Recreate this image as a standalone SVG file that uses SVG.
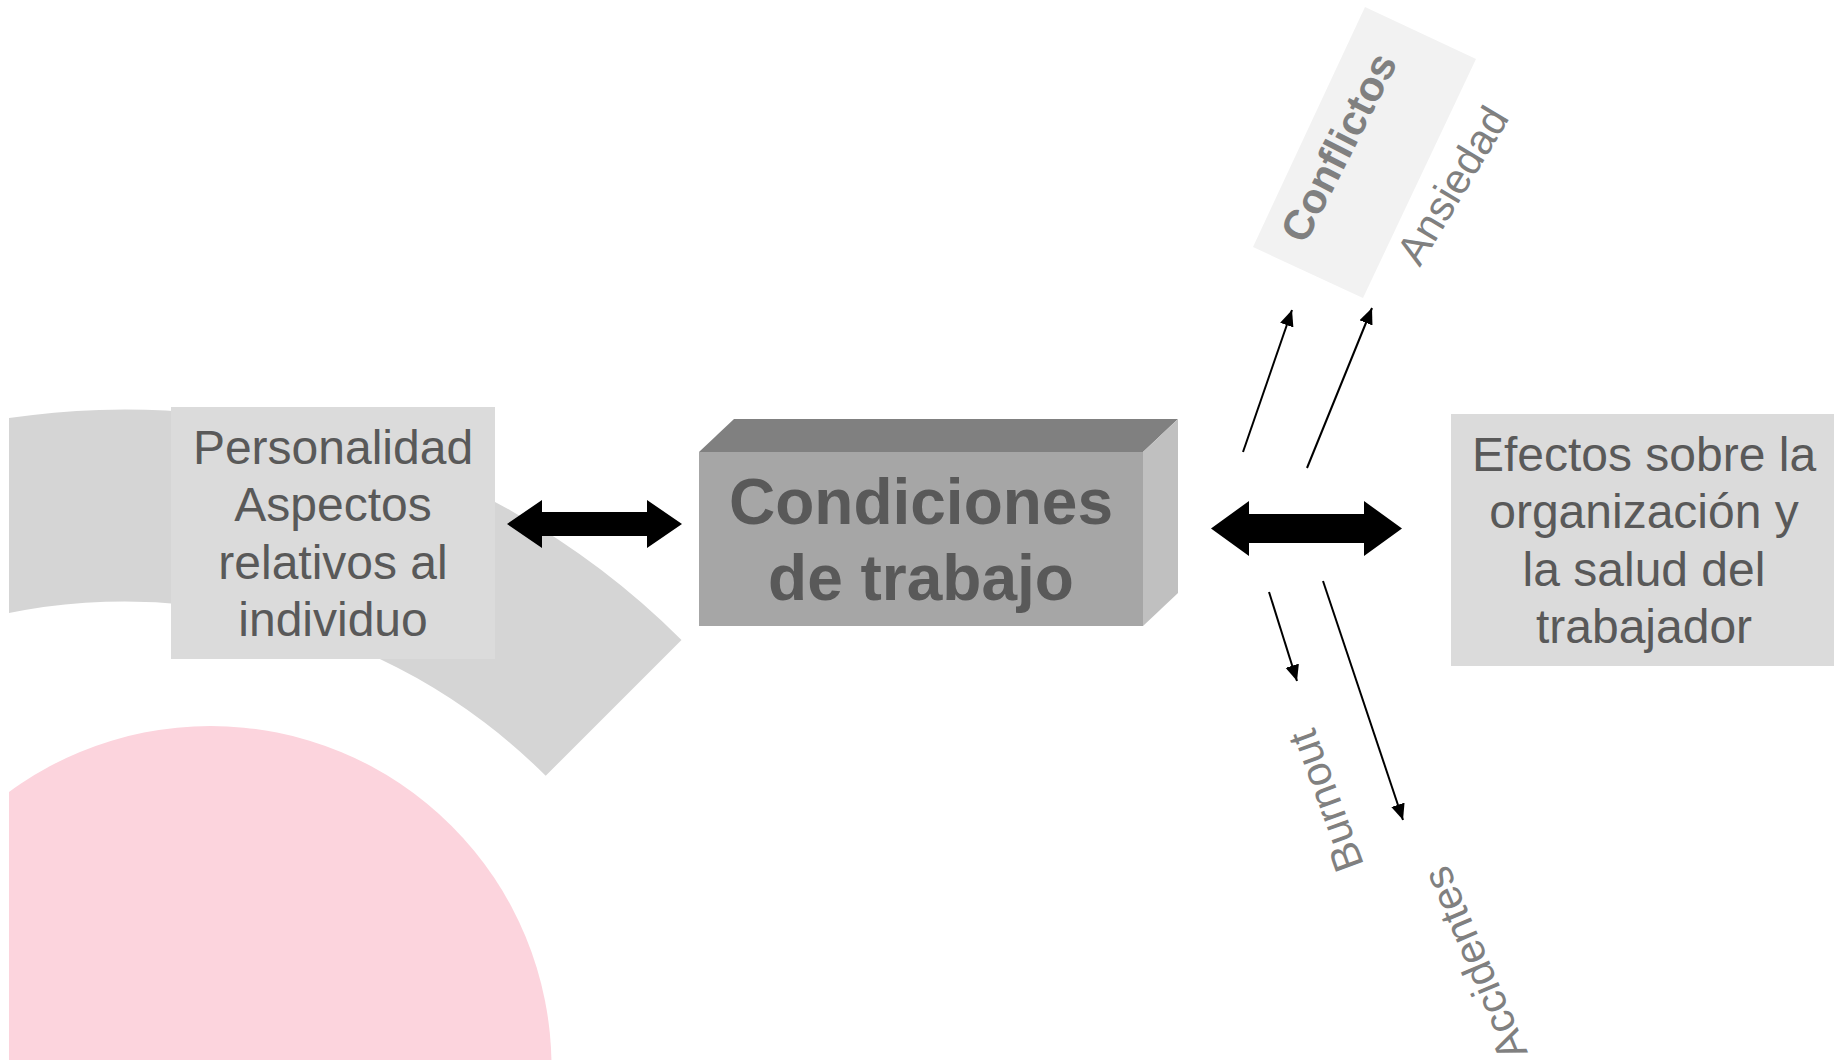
<svg xmlns="http://www.w3.org/2000/svg" width="1834" height="1060" viewBox="0 0 1834 1060">
<defs>
<clipPath id="bgclip"><rect x="9" y="0" width="1825" height="1060"/></clipPath>
<marker id="ah" markerUnits="userSpaceOnUse" markerWidth="18" markerHeight="16" refX="16" refY="7" orient="auto"><path d="M0,0 L16,7 L0,14 z" fill="#000"/></marker>
<style>
.box{fill:#dbdbdb}
.t48{font-family:"Liberation Sans",Arial,sans-serif;font-size:48px;fill:#595959;text-anchor:middle}
.big{font-family:"Liberation Sans",Arial,sans-serif;font-size:64px;font-weight:bold;fill:#595959;text-anchor:middle}
.rot{font-family:"Liberation Sans",Arial,sans-serif;font-size:42px;fill:#808080;text-anchor:middle}
.thin{stroke:#000;stroke-width:2;fill:none;marker-end:url(#ah)}
</style>
</defs>
<rect width="1834" height="1060" fill="#fff"/>
<g id="background" clip-path="url(#bgclip)">
<circle cx="210.5" cy="1067" r="341" fill="#fcd4dd"/>
<path d="M -650 1059.8 A 787 787 0 0 1 681.5 640 L 545.7 775.8 A 595 595 0 0 0 -461 1093.2 Z" fill="#d5d5d5"/>
</g>
<g id="node-personalidad">
<rect class="box" x="171" y="407" width="324" height="252"/>
<text class="t48"><tspan x="333" y="464">Personalidad</tspan><tspan x="333" y="521">Aspectos</tspan><tspan x="333" y="579">relativos al</tspan><tspan x="333" y="636">individuo</tspan></text>
</g>
<g id="node-condiciones">
<polygon points="699,452 734,419 1178,419 1143,452" fill="#808080"/>
<polygon points="1143,452 1178,419 1178,593 1143,626" fill="#c0c0c0"/>
<rect x="699" y="452" width="444" height="174" fill="#a6a6a6"/>
<text class="big"><tspan x="921" y="524">Condiciones</tspan><tspan x="921" y="600">de trabajo</tspan></text>
</g>
<g id="node-efectos">
<rect class="box" x="1451" y="414" width="383" height="252"/>
<text class="t48"><tspan x="1644" y="471">Efectos sobre la</tspan><tspan x="1644" y="528">organización y</tspan><tspan x="1644" y="586">la salud del</tspan><tspan x="1644" y="643">trabajador</tspan></text>
</g>
<g id="node-conflictos">
<polygon points="1365,7 1476,59 1363,298 1253,247" fill="#f2f2f2"/>
<text class="rot" font-weight="bold" transform="translate(1340,148) rotate(-63)" y="13">Conflictos</text>
</g>
<g id="node-ansiedad">
<text class="rot" transform="translate(1452,185) rotate(-59)" y="15">Ansiedad</text>
</g>
<g id="node-burnout">
<text class="rot" transform="translate(1325,801) rotate(-110)" y="15">Burnout</text>
</g>
<g id="node-accidentes">
<text class="rot" transform="translate(1476,963) rotate(-113)" y="13">Accidentes</text>
</g>
<g id="connectors">
<polygon points="507,524 542,500 542,512 647,512 647,500 682,524 647,548 647,536 542,536 542,548" fill="#000"/>
<polygon points="1211,528.5 1249,501 1249,514 1364,514 1364,501 1402,528.5 1364,556 1364,543 1249,543 1249,556" fill="#000"/>
<line class="thin" x1="1243" y1="452" x2="1292" y2="310"/>
<line class="thin" x1="1307" y1="468" x2="1372" y2="308"/>
<line class="thin" x1="1269" y1="592" x2="1297" y2="681"/>
<line class="thin" x1="1323" y1="581" x2="1403" y2="820"/>
</g>
</svg>
